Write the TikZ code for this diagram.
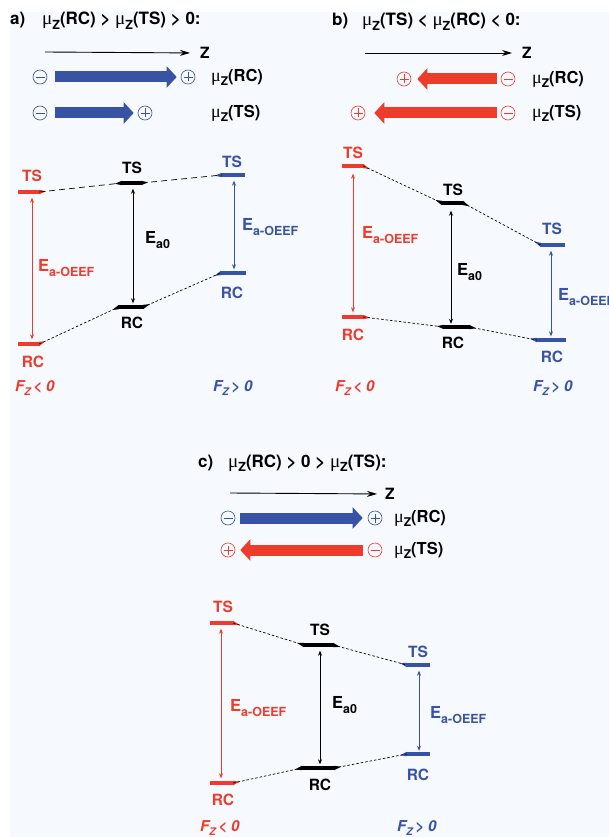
\documentclass[tikz,border=0pt]{standalone}
\usepackage{fontspec}
\setmainfont{TeX Gyre Heros}
\newfontfamily\mufont{Liberation Serif}
\usetikzlibrary{arrows.meta,calc}
\definecolor{myred}{RGB}{238,60,44}
\definecolor{myblue}{RGB}{57,83,164}
\definecolor{bgblue}{RGB}{246,249,253}
\newcommand\mzT[1]{{\mufont\mdseries\fontsize{19}{19}\selectfont μ}\raisebox{-0.25em}{\fontsize{12.5}{12.5}\selectfont Z}(#1)}
\newcommand\mzL[1]{{\mufont\mdseries\fontsize{18}{18}\selectfont μ}\raisebox{-0.25em}{\fontsize{12}{12}\selectfont Z}(#1)}
\newcommand\Eoeef{E\raisebox{-0.25em}{\fontsize{12.5}{12.5}\selectfont a-OEEF}}
\newcommand\Ezero{E\raisebox{-0.25em}{\fontsize{12.5}{12.5}\selectfont a0}}
\newcommand\Fz[1]{F\raisebox{-0.25em}{\fontsize{10.5}{10.5}\selectfont Z}\,#1}
\newcommand\tpr[4]{\fill[#4] (#1.north #2) -- ($(#1.#2)!7pt!(#3)$) -- (#1.south #2) -- cycle;}
\begin{document}
\begin{tikzpicture}[x=1pt,y=-1pt,
  ttl/.style={font=\bfseries\fontsize{17}{17}\selectfont, anchor=base west, inner sep=0},
  lbl/.style={font=\bfseries\fontsize{15.5}{15.5}\selectfont, inner sep=0},
  rowlbl/.style={font=\bfseries\fontsize{16.5}{16.5}\selectfont, inner sep=0, anchor=west},
  elbl/.style={font=\bfseries\fontsize{16.5}{16.5}\selectfont, inner sep=0, anchor=west},
  flbl/.style={font=\bfseries\itshape\fontsize{15}{15}\selectfont, inner sep=0, anchor=west},
  sgn/.style={circle, draw, line width=0.6pt, minimum size=14pt, inner sep=0},
  minus/.style={sgn, path picture={\draw[line width=0.6pt] ($(path picture bounding box.center)+(-4.5pt,0pt)$) -- ($(path picture bounding box.center)+(4.5pt,0pt)$);}},
  plus/.style={sgn, path picture={\draw[line width=0.6pt] ($(path picture bounding box.center)+(-4.5pt,0pt)$) -- ($(path picture bounding box.center)+(4.5pt,0pt)$) ($(path picture bounding box.center)+(0pt,-4.5pt)$) -- ($(path picture bounding box.center)+(0pt,4.5pt)$);}},
  bigarr/.style={line width=11pt, -{Triangle[length=10pt,width=21pt]}},
  zaxis/.style={line width=0.9pt, -{Stealth[length=10pt,width=6pt]}},
  bar/.style={minimum height=4pt, inner sep=0, fill},
  earrow/.style={line width=0.7pt, {Stealth[length=5pt,width=4pt]}-{Stealth[length=5pt,width=4pt]}},
  sconn/.style={line width=0.7pt, dash pattern=on 2.5pt off 2pt},
  lconn/.style={line width=0.7pt, dash pattern=on 6pt off 4pt}
]
\useasboundingbox (0,0) rectangle (609,837);
\fill[bgblue] (10,12) rectangle (609,837);

% ================= panel a header
\node[ttl] (aLab) at (10,25) {a)};
\node[ttl] (aTitle) at (42,25) {\mzT{RC} > \mzT{TS} > 0:};
\coordinate (aZs) at (45,52);
\node[lbl, anchor=west] (aZ) at (200,53) {Z};
\draw[zaxis, shorten >=10pt] (aZs) -- (aZ.west);
\node[minus, myblue] (aM1) at (40,77) {};
\node[plus, myblue] (aP1) at (188,77) {};
\draw[bigarr, myblue, shorten <=8pt, shorten >=4pt] (aM1.east) -- (aP1.west);
\node[rowlbl] (aL1) at (211,77) {\mzL{RC}};
\node[minus, myblue] (aM2) at (40,113) {};
\node[plus, myblue] (aP2) at (145,113) {};
\draw[bigarr, myblue, shorten <=8pt, shorten >=4pt] (aM2.east) -- (aP2.west);
\node[rowlbl] (aL2) at (211,113) {\mzL{TS}};

% ================= panel a diagram
\node[bar, myred, minimum width=21pt] (aRTS) at (28.5,192) {};
\node[bar, myred, minimum width=21pt] (aRRC) at (28.5,344) {};
\node[bar, black, minimum width=19pt] (aKTS) at (131.5,183) {};
\node[bar, black, minimum width=24pt] (aKRC) at (131,307) {};
\node[bar, myblue, minimum width=23pt] (aBTS) at (233.5,175) {};
\node[bar, myblue, minimum width=25pt] (aBRC) at (233.5,273) {};
\tpr{aRTS}{east}{aKTS.west}{myred}
\tpr{aKTS}{west}{aRTS.east}{black}
\tpr{aKTS}{east}{aBTS.west}{black}
\tpr{aBTS}{west}{aKTS.east}{myblue}
\tpr{aRRC}{east}{aKRC.west}{myred}
\tpr{aKRC}{west}{aRRC.east}{black}
\tpr{aKRC}{east}{aBRC.west}{black}
\tpr{aBRC}{west}{aKRC.east}{myblue}
\node[lbl, myred] (aRTSt) at (32,176) {TS};
\node[lbl, myred] (aRRCt) at (33,362) {RC};
\node[lbl] (aKTSt) at (132,168) {TS};
\node[lbl] (aKRCt) at (132,323) {RC};
\node[lbl, myblue] (aBTSt) at (232,162) {TS};
\node[lbl, myblue] (aBRCt) at (232,293) {RC};
\draw[lconn] (aRTS.east) -- (aKTS.west);
\draw[lconn] (aKTS.east) -- (aBTS.west);
\draw[sconn] (aRRC.east) -- (aKRC.west);
\draw[sconn] (aKRC.east) -- (aBRC.west);
\draw[earrow, myred, shorten <=3.5pt, shorten >=2.5pt] ([xshift=3.5pt]aRTS.south) -- ([xshift=3.5pt]aRRC.north);
\draw[earrow, shorten <=3.5pt, shorten >=1.5pt] ([xshift=1.5pt]aKTS.south) -- ([xshift=2pt]aKRC.north);
\draw[earrow, myblue, shorten <=3.5pt, shorten >=1.5pt] ([xshift=0.5pt]aBTS.south) -- ([xshift=0.5pt]aBRC.north);
\node[elbl, myred] (aRE) at (38,268) {\Eoeef};
\node[elbl] (aKE) at (145,240) {\Ezero};
\node[elbl, myblue] (aBE) at (242,227) {\Eoeef};
\node[flbl, myred] (aFn) at (15,388) {\Fz{< 0}};
\node[flbl, myblue] (aFp) at (213,388) {\Fz{> 0}};

% ================= panel b header
\node[ttl] (bLab) at (332,26) {b)};
\node[ttl] (bTitle) at (362,26) {\mzT{TS} < \mzT{RC} < 0:};
\coordinate (bZs) at (365,53);
\node[lbl, anchor=west] (bZ) at (522,53) {Z};
\draw[zaxis, shorten >=10pt] (bZs) -- (bZ.west);
\node[plus, myred] (bP1) at (404,79) {};
\node[minus, myred] (bM1) at (508,79) {};
\draw[bigarr, myred, shorten <=4pt, shorten >=6pt] (bM1.west) -- (bP1.east);
\node[rowlbl] (bL1) at (532,79) {\mzL{RC}};
\node[plus, myred] (bP2) at (358,113) {};
\node[minus, myred] (bM2) at (508,113) {};
\draw[bigarr, myred, shorten <=4pt, shorten >=9pt] (bM2.west) -- (bP2.east);
\node[rowlbl] (bL2) at (532,113) {\mzL{TS}};

% ================= panel b diagram
\node[bar, myred, minimum width=21pt] (bRTS) at (352.5,166) {};
\node[bar, myred, minimum width=21pt] (bRRC) at (352.5,317) {};
\node[bar, black, minimum width=21pt] (bKTS) at (452.5,203) {};
\node[bar, black, minimum width=25pt] (bKRC) at (456.5,327) {};
\node[bar, myblue, minimum width=24pt] (bBTS) at (553,245) {};
\node[bar, myblue, minimum width=29pt] (bBRC) at (551.5,340) {};
\tpr{bRTS}{east}{bKTS.west}{myred}
\tpr{bKTS}{west}{bRTS.east}{black}
\tpr{bKTS}{east}{bBTS.west}{black}
\tpr{bBTS}{west}{bKTS.east}{myblue}
\tpr{bRRC}{east}{bKRC.west}{myred}
\tpr{bKRC}{west}{bRRC.east}{black}
\tpr{bKRC}{east}{bBRC.west}{black}
\tpr{bBRC}{west}{bKRC.east}{myblue}
\node[lbl, myred] (bRTSt) at (353,153) {TS};
\node[lbl, myred] (bRRCt) at (353,335) {RC};
\node[lbl] (bKTSt) at (453,190) {TS};
\node[lbl] (bKRCt) at (453,343) {RC};
\node[lbl, myblue] (bBTSt) at (552,229) {TS};
\node[lbl, myblue] (bBRCt) at (552,357) {RC};
\draw[sconn] (bRTS.east) -- (bKTS.west);
\draw[sconn] (bKTS.east) -- (bBTS.west);
\draw[sconn] (bRRC.east) -- (bKRC.west);
\draw[sconn] (bKRC.east) -- (bBRC.west);
\draw[earrow, myred, shorten <=5.5pt, shorten >=2.5pt] ([xshift=0.5pt]bRTS.south) -- ([xshift=0.5pt]bRRC.north);
\draw[earrow, shorten <=5.5pt, shorten >=1pt] ([xshift=-1.5pt]bKTS.south) -- ([xshift=-5.5pt]bKRC.north);
\draw[earrow, myblue, shorten <=3.5pt, shorten >=1.5pt] ([xshift=-2pt]bBTS.south) -- ([xshift=-0.5pt]bBRC.north);
\node[elbl, myred] (bRE) at (362,235) {\Eoeef};
\node[elbl] (bKE) at (457,272) {\Ezero};
\node[elbl, myblue] (bBE) at (558,297) {\Eoeef};
\node[flbl, myred] (bFn) at (335,388) {\Fz{< 0}};
\node[flbl, myblue] (bFp) at (533,388) {\Fz{> 0}};

% ================= panel c header
\node[ttl] (cLab) at (198,467) {c)};
\node[ttl] (cTitle) at (228,467) {\mzT{RC} > 0 > \mzT{TS}:};
\coordinate (cZs) at (230,493);
\node[lbl, anchor=west] (cZ) at (385,494) {Z};
\draw[zaxis, shorten >=8pt] (cZs) -- (cZ.west);
\node[minus, myblue] (cM1) at (228,518) {};
\node[plus, myblue] (cP1) at (375,518) {};
\draw[bigarr, myblue, shorten <=5pt, shorten >=5pt] (cM1.east) -- (cP1.west);
\node[rowlbl] (cL1) at (394,518) {\mzL{RC}};
\node[plus, myred] (cP2) at (228,550) {};
\node[minus, myred] (cM2) at (375,550) {};
\draw[bigarr, myred, shorten <=5pt, shorten >=5pt] (cM2.west) -- (cP2.east);
\node[rowlbl] (cL2) at (394,550) {\mzL{TS}};

% ================= panel c diagram
\node[bar, myred, minimum width=23pt] (cRTS) at (221.5,623) {};
\node[bar, myred, minimum width=23pt] (cRRC) at (221.5,783) {};
\node[bar, black, minimum width=29pt] (cKTS) at (318.5,645) {};
\node[bar, black, minimum width=32pt] (cKRC) at (318,768) {};
\node[bar, myblue, minimum width=23pt] (cBTS) at (418.5,665) {};
\node[bar, myblue, minimum width=23pt] (cBRC) at (418.5,754) {};
\tpr{cRTS}{east}{cKTS.west}{myred}
\tpr{cKTS}{west}{cRTS.east}{black}
\tpr{cKTS}{east}{cBTS.west}{black}
\tpr{cBTS}{west}{cKTS.east}{myblue}
\tpr{cRRC}{east}{cKRC.west}{myred}
\tpr{cKRC}{west}{cRRC.east}{black}
\tpr{cKRC}{east}{cBRC.west}{black}
\tpr{cBRC}{west}{cKRC.east}{myblue}
\node[lbl, myred] (cRTSt) at (223,607) {TS};
\node[lbl, myred] (cRRCt) at (223,800) {RC};
\node[lbl] (cKTSt) at (320,630) {TS};
\node[lbl] (cKRCt) at (320,785) {RC};
\node[lbl, myblue] (cBTSt) at (418,652) {TS};
\node[lbl, myblue] (cBRCt) at (418,775) {RC};
\draw[sconn] (cRTS.east) -- (cKTS.west);
\draw[sconn] (cKTS.east) -- (cBTS.west);
\draw[sconn] (cRRC.east) -- (cKRC.west);
\draw[sconn] (cKRC.east) -- (cBRC.west);
\draw[earrow, myred, shorten <=3.5pt, shorten >=2.5pt] ([xshift=-0.5pt]cRTS.south) -- ([xshift=-0.5pt]cRRC.north);
\draw[earrow, shorten <=3.5pt, shorten >=1.5pt] ([xshift=1.5pt]cKTS.south) -- ([xshift=2pt]cKRC.north);
\draw[earrow, myblue, shorten <=3.5pt, shorten >=1pt] ([xshift=0.5pt]cBTS.south) -- ([xshift=0.5pt]cBRC.north);
\node[elbl, myred] (cRE) at (230,708) {\Eoeef};
\node[elbl] (cKE) at (332,705) {\Ezero};
\node[elbl, myblue] (cBE) at (430,715) {\Eoeef};
\node[flbl, myred] (cFn) at (200,828) {\Fz{< 0}};
\node[flbl, myblue] (cFp) at (397,828) {\Fz{> 0}};
\end{tikzpicture}
\end{document}
